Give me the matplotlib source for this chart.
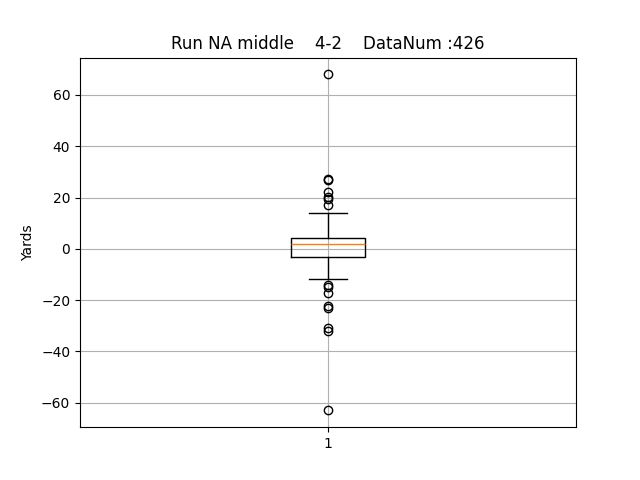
import matplotlib
matplotlib.use("Agg")
from matplotlib import pyplot as plt

q1, med, q3 = -3.1, 1.9, 4.2
whislo, whishi = -11.8, 14.1
fliers = [68, 27.1, 26.8, 22.2, 20.3, 19.5, 17.2, -14.1, -15.0, -17.2, -22.2, -23.0, -31.0, -32.0, -63.0]

stats = [dict(med=med, q1=q1, q3=q3, whislo=whislo, whishi=whishi, fliers=fliers, label="1")]

fig, ax = plt.subplots(figsize=(6.4, 4.8), dpi=100)
ax.bxp(stats)
ax.grid(True)
ax.set_ylabel("Yards")
ax.set_title("Run NA middle    4-2    DataNum :426")
fig.savefig("out.png")
